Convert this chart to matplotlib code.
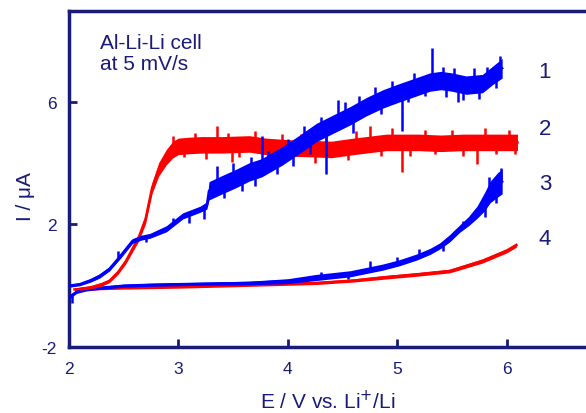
import numpy as np
import matplotlib
matplotlib.use("Agg")
import matplotlib.pyplot as plt

plt.rcParams['font.family'] = ['Liberation Sans', 'DejaVu Sans']
plt.rcParams['axes.unicode_minus'] = False

NAVY = '#1a1a78'
BLUE = '#0000ff'
RED = '#ff0000'

# Curve 1 (blue, upper)
x1 = [2.0, 2.1, 2.2, 2.28, 2.37, 2.47, 2.58, 2.66, 2.74, 2.89, 3.04, 3.2, 3.26, 3.28, 3.4, 3.52,
      3.65, 3.76, 3.95, 4.1, 4.26, 4.4, 4.57, 4.72, 4.87, 5.02, 5.18, 5.3, 5.4, 5.5, 5.63, 5.78, 5.87, 5.96]
y1 = [0.0, 0.05, 0.18, 0.32, 0.55, 0.97, 1.46, 1.57, 1.63, 1.86, 2.28, 2.5, 2.62, 3.1, 3.3, 3.49,
      3.72, 3.85, 4.24, 4.6, 5.0, 5.25, 5.55, 5.85, 6.1, 6.3, 6.5, 6.65, 6.7, 6.65, 6.55, 6.6, 6.86, 7.1]
w1 = [0.05, 0.05, 0.06, 0.07, 0.07, 0.08, 0.08, 0.08, 0.08, 0.1, 0.1, 0.1, 0.12, 0.3, 0.3, 0.3,
      0.3, 0.3, 0.3, 0.3, 0.3, 0.3, 0.3, 0.3, 0.3, 0.3, 0.3, 0.3, 0.3, 0.3, 0.3, 0.3, 0.3, 0.32]
sp1_x = [2.45, 2.7, 2.95, 3.1, 3.23, 3.35, 3.42, 3.5, 3.58, 3.66, 3.7, 3.76, 3.82, 3.9, 4.0, 4.05, 4.15,
         4.2, 4.3, 4.35, 4.46, 4.52, 4.6, 4.65, 4.8, 4.85, 4.95, 5.04, 5.1, 5.15, 5.25, 5.32, 5.42,
         5.45, 5.52, 5.56, 5.6, 5.7, 5.75, 5.82, 5.9, 5.94]
sp1_t = [1.15, 1.43, 2.2, 2.05, 2.18, 3.9, 2.85, 4.0, 3.1, 4.2, 3.25, 4.9, 4.4, 3.65, 4.8, 3.9, 5.2,
         4.3, 5.5, 3.65, 6.05, 6.0, 5.0, 6.2, 6.5, 5.6, 6.7, 5.06, 6.0, 6.95, 6.2, 7.75, 7.15,
         6.15, 7.1, 6.0, 6.05, 7.1, 6.1, 7.15, 6.45, 7.5]

# Curve 2 (red, upper)
x2 = [2.1, 2.2, 2.3, 2.37, 2.45, 2.52, 2.58, 2.64, 2.7, 2.76, 2.82, 2.89, 2.95, 3.0, 3.1, 3.21,
      3.4, 3.65, 3.8, 4.0, 4.2, 4.4, 4.6, 4.9, 5.0, 5.2, 5.4, 5.6, 5.8, 6.0, 6.1]
y2 = [-0.1, -0.05, 0.05, 0.16, 0.45, 0.8, 1.2, 1.6, 2.18, 3.2, 3.8, 4.2, 4.45, 4.55, 4.58, 4.6,
      4.6, 4.63, 4.55, 4.5, 4.48, 4.45, 4.55, 4.68, 4.68, 4.68, 4.65, 4.68, 4.68, 4.68, 4.68]
w2 = [0.05, 0.05, 0.06, 0.06, 0.07, 0.08, 0.1, 0.12, 0.15, 0.18, 0.22, 0.25, 0.27, 0.27, 0.27, 0.27,
      0.27, 0.27, 0.27, 0.27, 0.27, 0.27, 0.27, 0.27, 0.27, 0.27, 0.27, 0.27, 0.27, 0.27, 0.27]
sp2_x = [2.95, 3.05, 3.15, 3.25, 3.35, 3.45, 3.49, 3.55, 3.7, 3.88, 3.95, 4.12, 4.25, 4.35, 4.55,
         4.62, 4.75, 4.85, 4.95, 5.04, 5.12, 5.25, 5.35, 5.5, 5.6, 5.73, 5.8, 5.9, 6.02, 6.08]
sp2_t = [4.9, 4.2, 5.0, 4.15, 5.22, 5.0, 4.05, 4.2, 5.05, 4.1, 4.95, 4.95, 4.0, 4.95, 4.1,
         5.05, 5.2, 4.25, 5.15, 3.7, 4.25, 5.1, 4.3, 5.1, 4.25, 3.97, 5.15, 4.3, 5.1, 4.3]

# Curve 3 (blue, lower)
x3 = [2.0, 2.07, 2.16, 2.28, 2.5, 2.74, 3.0, 3.3, 3.65, 4.0, 4.26, 4.57, 4.87, 5.02, 5.18,
      5.3, 5.39, 5.48, 5.57, 5.65, 5.73, 5.8, 5.85, 5.92, 5.96]
y3 = [-0.37, -0.2, -0.12, -0.07, 0.0, 0.03, 0.05, 0.07, 0.09, 0.15, 0.27, 0.39, 0.61, 0.75, 0.94,
      1.12, 1.3, 1.55, 1.86, 2.1, 2.4, 2.75, 3.06, 3.3, 3.4]
w3 = [0.06, 0.05, 0.05, 0.05, 0.05, 0.05, 0.05, 0.05, 0.06, 0.08, 0.1, 0.1, 0.1, 0.1, 0.1,
      0.1, 0.1, 0.12, 0.12, 0.15, 0.2, 0.3, 0.35, 0.4, 0.4]
sp3_x = [2.03, 4.3, 4.55, 4.75, 5.0, 5.2, 5.42, 5.6, 5.8, 5.84, 5.9, 5.95]
sp3_t = [-0.55, 0.45, 0.22, 0.8, 0.95, 1.2, 1.14, 2.1, 2.25, 3.55, 2.7, 3.85]

# Curve 4 (red, lower)
x4 = [2.05, 2.3, 2.5, 3.0, 3.65, 4.26, 4.6, 4.87, 5.18, 5.48, 5.78, 6.0, 6.09]
y4 = [-0.12, -0.08, -0.06, -0.03, 0.03, 0.09, 0.17, 0.27, 0.37, 0.48, 0.81, 1.14, 1.33]
w4 = [0.05, 0.05, 0.05, 0.05, 0.05, 0.05, 0.05, 0.06, 0.06, 0.06, 0.07, 0.07, 0.07]

labels = ['1', '2', '3', '4']
label_y = [6.99, 5.12, 3.33, 1.53]

fig = plt.figure(figsize=(5.86, 4.14), dpi=100)
ax = fig.add_axes([69/586, 66/414, 1 - 69/586 + 0.01, (348-12)/414])

def draw(x, y, w, color, z, sx=None, st=None):
    x = np.array(x); y = np.array(y); w = np.array(w)
    ax.fill_between(x, y - w, y + w, color=color, lw=0, zorder=z)
    ax.plot(x, y, color=color, lw=1.8, zorder=z)
    if sx is not None:
        base = np.interp(sx, x, y)
        ax.vlines(sx, base, st, color=color, lw=1.8, zorder=z)

draw(x4, y4, w4, RED, 2)
draw(x3, y3, w3, BLUE, 3, sp3_x, sp3_t)
draw(x2, y2, w2, RED, 4, sp2_x, sp2_t)
draw(x1, y1, w1, BLUE, 5, sp1_x, sp1_t)

ax.set_xlim(2, 6.78)
ax.set_ylim(-2, 8.97)
ax.set_xticks([2, 3, 4, 5, 6])
ax.set_yticks([-2, 2, 6])
ax.tick_params(direction='in', length=6, width=2, colors=NAVY, labelsize=12.5)
ax.tick_params(axis='x', pad=10)
ax.tick_params(axis='y', pad=9)
for s in ['left', 'bottom', 'top']:
    ax.spines[s].set_color(NAVY)
    ax.spines[s].set_linewidth(2.5)
ax.spines['right'].set_visible(False)

for lab, ly in zip(labels, label_y):
    ax.text(6.35, ly, lab, color=NAVY, fontsize=16, ha='center', va='center')

ax.text(0.06, 0.935, 'Al-Li-Li cell\nat 5 mV/s', transform=ax.transAxes, color=NAVY,
        fontsize=15, ha='left', va='top', linespacing=1.15)

ax.set_xlabel('E / V vs. Li$^{+}$/Li', color=NAVY, fontsize=15)
ax.set_ylabel('I / \u03bcA', color=NAVY, fontsize=15)
ax.xaxis.set_label_coords(0.495, -0.125)
ax.yaxis.set_label_coords(-0.065, 0.45)

fig.savefig('out.png', dpi=100)
